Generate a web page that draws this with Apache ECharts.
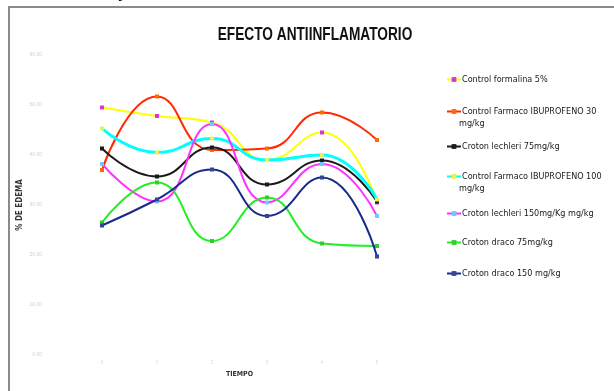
<!DOCTYPE html>
<html>
<head>
<meta charset="utf-8">
<script src="https://cdn.jsdelivr.net/npm/echarts@6/dist/echarts.min.js"></script>
<style>
  html, body { margin: 0; padding: 0; background: #fff; }
  #chart { width: 614px; height: 391px; }
</style>
</head>
<body>
<div id="chart"></div>
<script>
// Time points (x axis) and y-axis ticks
const tiempos = ['0', '1', '2', '3', '4', '5'];
const yTicks = [0, 10, 20, 30, 40, 50, 60];

// % de edema per group
const controlFormalina = [49.5, 47.8, 46.5, 39.0, 44.5, 30.5];
const ibuprofeno30 = [37.0, 51.7, 41.0, 41.3, 48.5, 43.0];
const lechleri75 = [41.3, 35.7, 41.5, 34.1, 38.9, 30.7];
const ibuprofeno100 = [45.3, 40.5, 43.3, 39.0, 40.0, 31.1];
const lechleri150 = [38.2, 30.7, 46.2, 30.5, 38.2, 27.8];
const draco75 = [26.5, 34.5, 22.8, 31.5, 22.3, 21.8];
const draco150 = [25.9, 31.1, 37.1, 27.8, 35.5, 19.7];

const seriesNames = [
  'Control formalina 5%',
  'Control Farmaco IBUPROFENO 30',
  'Croton lechleri 75mg/kg',
  'Control Farmaco IBUPROFENO 100',
  'Croton lechleri 150mg/Kg mg/kg',
  'Croton draco 75mg/kg',
  'Croton draco 150 mg/kg'
];
const seriesData = [controlFormalina, ibuprofeno30, lechleri75, ibuprofeno100, lechleri150, draco75, draco150];
const lineColors = ['#ffff00', '#ff2a00', '#1a1a1a', '#00ffff', '#ff33ff', '#22ee22', '#1a2a8c'];
const markerColors = ['#dd33dd', '#ff6a00', '#1a1a1a', '#eeee55', '#66ccff', '#33cc33', '#334499'];
const lineWidths = [2, 2, 2, 3, 2, 2, 2];
const legendTops = [70, 102, 137, 167, 204, 233, 264];

const NARROW = "'DejaVu Sans Condensed', 'Liberation Sans Narrow', 'Arial Narrow', sans-serif";
const SANS = "'Liberation Sans', Arial, sans-serif";

const chart = echarts.init(document.getElementById('chart'), null, { renderer: 'canvas' });

const series = seriesNames.map((name, i) => ({
  name: name,
  type: 'line',
  data: seriesData[i],
  smooth: 0.5,
  symbol: 'rect',
  symbolSize: 4,
  lineStyle: { color: lineColors[i], width: lineWidths[i] },
  itemStyle: { color: markerColors[i], borderWidth: 0 },
  emphasis: { disabled: true },
  z: 2 + i
}));

const legends = seriesNames.map((name, i) => ({
  data: [{ name: name, itemStyle: { color: markerColors[i] }, lineStyle: { color: lineColors[i] } }],
  left: 441,
  top: legendTops[i],
  orient: 'vertical',
  itemWidth: 14,
  itemHeight: 6,
  itemGap: 0,
  selectedMode: false,
  textStyle: { fontFamily: NARROW, fontSize: 9, color: '#1a1a1a', padding: [0, 0, 0, -4] }
}));

chart.setOption({
  animation: false,
  backgroundColor: '#fff',
  legend: legends,
  grid: { left: 102, right: 237, top: 55, bottom: 36 },
  xAxis: {
    type: 'category',
    data: tiempos,
    boundaryGap: false,
    name: 'TIEMPO',
    nameLocation: 'middle',
    nameGap: 16,
    nameTextStyle: { fontFamily: NARROW, fontSize: 7, fontWeight: 'bold', color: '#333' },
    axisLine: { show: false },
    axisTick: { show: false },
    axisLabel: { color: '#d8d8d8', fontSize: 5, margin: 5 },
    splitLine: { show: false }
  },
  yAxis: {
    type: 'value',
    min: yTicks[0],
    max: yTicks[yTicks.length - 1],
    interval: 10,
    name: '% DE EDEMA',
    nameLocation: 'middle',
    nameGap: 78,
    nameRotate: 90,
    nameTextStyle: { fontFamily: NARROW, fontSize: 8, fontWeight: 'bold', color: '#333' },
    axisLine: { show: false },
    axisTick: { show: false },
    axisLabel: { color: '#d0d0d0', fontSize: 5, margin: 60, formatter: v => v.toFixed(2) },
    splitLine: { show: false }
  },
  graphic: [
    // sheet frame
    { type: 'rect', shape: { x: 9, y: 7, width: 620, height: 400 }, style: { fill: 'none', stroke: '#8a8a8a', lineWidth: 2 }, silent: true },
    // descender of the heading above the frame
    { type: 'text', x: 118, y: -14, style: { text: 'y', font: "bold 16px " + SANS, fill: '#111' }, silent: true },
    // chart heading, condensed
    {
      type: 'text', x: 315, y: 35, scaleX: 0.72, silent: true,
      style: { text: 'EFECTO ANTIINFLAMATORIO', font: "bold 19px " + SANS, fill: '#111', textAlign: 'center', textVerticalAlign: 'middle' }
    },
    // wrapped second lines of the long legend entries
    { type: 'text', x: 459, y: legendTops[1] + 17, style: { text: 'mg/kg', font: "9px " + NARROW, fill: '#1a1a1a' }, silent: true },
    { type: 'text', x: 459, y: legendTops[3] + 17, style: { text: 'mg/kg', font: "9px " + NARROW, fill: '#1a1a1a' }, silent: true }
  ],
  series: series
});
</script>
</body>
</html>
